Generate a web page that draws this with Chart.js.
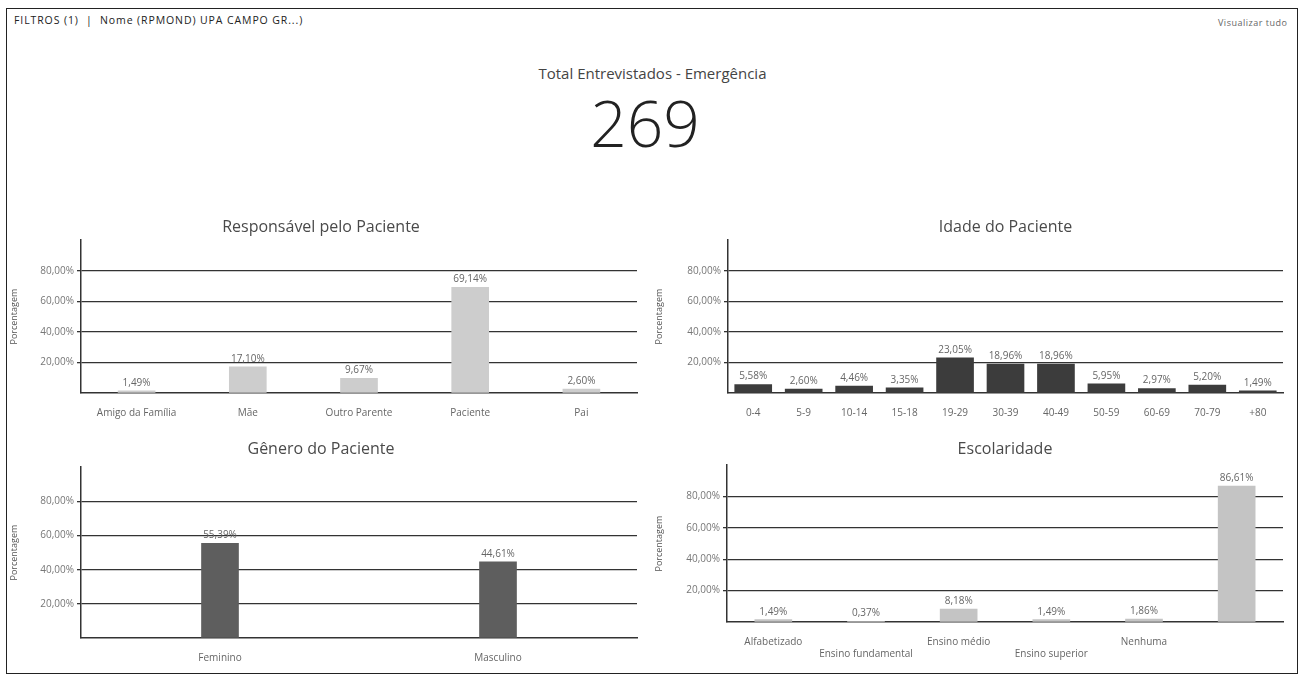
<!DOCTYPE html>
<html>
<head>
<meta charset="utf-8">
<script src="https://cdn.jsdelivr.net/npm/chart.js@4.4.1/dist/chart.umd.min.js"></script>
<style>
  html, body { margin:0; padding:0; background:#fff; }
  body { width:1305px; height:679px; position:relative; overflow:hidden; font-family:"Open Sans", sans-serif; }
  #frame { position:absolute; left:6px; top:8px; width:1292px; height:666px; border:1.5px solid #222; box-sizing:border-box; }
  #filtros { position:absolute; left:14px; top:13px; font-size:10.5px; letter-spacing:0.9px; color:#222; white-space:nowrap; }
  #verTudo { position:absolute; left:1218px; top:16px; font-size:9px; letter-spacing:0.5px; color:#666; white-space:nowrap; }
  #kpiTitle { position:absolute; left:0; width:1305px; top:63px; text-align:center; font-size:15px; color:#444; }
  #kpi { position:absolute; left:0; width:1290px; top:80px; text-align:center; font-size:64px; font-weight:300; color:#222; line-height:86px; }
  .box { position:absolute; }
</style>
</head>
<body>
<div id="frame"></div>
<div id="filtros">FILTROS (1) &nbsp;|&nbsp; Nome (RPMOND) UPA CAMPO GR...)</div>
<div id="verTudo">Visualizar tudo</div>
<div id="kpiTitle">Total Entrevistados - Emergência</div>
<div id="kpi">269</div>

<div class="box" style="left:5px;top:205px;width:636px;height:218px"><canvas id="chartResp"></canvas></div>
<div class="box" style="left:650px;top:205px;width:645px;height:218px"><canvas id="chartIdade"></canvas></div>
<div class="box" style="left:5px;top:430px;width:636px;height:238px"><canvas id="chartGenero"></canvas></div>
<div class="box" style="left:650px;top:430px;width:645px;height:234px"><canvas id="chartEscol"></canvas></div>

<script>
const respLabels = ["Amigo da Família", "Mãe", "Outro Parente", "Paciente", "Pai"];
const respValues = [1.49, 17.10, 9.67, 69.14, 2.60];

const idadeLabels = ["0-4", "5-9", "10-14", "15-18", "19-29", "30-39", "40-49", "50-59", "60-69", "70-79", "+80"];
const idadeValues = [5.58, 2.60, 4.46, 3.35, 23.05, 18.96, 18.96, 5.95, 2.97, 5.20, 1.49];

const generoLabels = ["Feminino", "Masculino"];
const generoValues = [55.39, 44.61];

const escolLabels = ["Alfabetizado", "Ensino fundamental", "Ensino médio", "Ensino superior", "Nenhuma", ""];
const escolValues = [1.49, 0.37, 8.18, 1.49, 1.86, 86.61];

const yTicks = [0, 20, 40, 60, 80, 100];

Chart.defaults.font.family = "'Open Sans', sans-serif";
Chart.defaults.color = "#666";

function pct(v){ return v.toFixed(2).replace(".", ",") + "%"; }

const valueLabels = {
    id: "valueLabels",
    afterDatasetsDraw(chart){
        const ctx = chart.ctx;
        const meta = chart.getDatasetMeta(0);
        ctx.save();
        ctx.font = "10px 'Open Sans', sans-serif";
        ctx.fillStyle = "#666";
        ctx.textAlign = "center";
        ctx.textBaseline = "bottom";
        meta.data.forEach((bar, i)=>{
            ctx.fillText(pct(chart.data.datasets[0].data[i]), bar.x, bar.y - 3);
        });
        ctx.restore();
    }
};

function makeChart(id, labels, values, color, opts){
    return new Chart(document.getElementById(id), {
        type: "bar",
        data: { labels: labels, datasets: [{ data: values, backgroundColor: color, barThickness: 37 }] },
        plugins: [valueLabels],
        options: {
            responsive: true,
            maintainAspectRatio: false,
            animation: false,
            layout: { padding: { top: 0, right: opts.padRight, left: 0, bottom: 0 } },
            plugins: {
                legend: { display: false },
                tooltip: { enabled: false },
                title: {
                    display: true,
                    text: opts.title,
                    fullSize: opts.fullSize,
                    color: "#4a4a4a",
                    font: { size: 16, weight: "normal" },
                    padding: { top: opts.titleTop, bottom: opts.titleBottom }
                }
            },
            scales: {
                x: {
                    grid: { display: false },
                    border: { color: "#333", width: 1.5 },
                    ticks: { autoSkip: false, maxRotation: 0, font: { size: 10 }, color: "#666", padding: 6 },
                    afterFit: s => { s.height = opts.xHeight; }
                },
                y: {
                    min: 0, max: 100,
                    afterBuildTicks: s => { s.ticks = yTicks.map(v => ({ value: v })); },
                    ticks: {
                        font: { size: 10 }, color: "#777", padding: 3,
                        callback: v => (v === 0 || v === 100) ? "" : pct(v)
                    },
                    grid: {
                        color: c => c.tick && (c.tick.value === 100 || c.tick.value === 0) ? "rgba(0,0,0,0)" : "#333",
                        lineWidth: 1.3,
                        tickLength: 4
                    },
                    border: { color: "#333", width: 1.5 },
                    title: { display: true, text: "Porcentagem", font: { size: 9 }, color: "#555", padding: { top: 4, bottom: 0 } },
                    afterFit: s => { s.width = opts.yWidth; }
                }
            }
        }
    });
}

makeChart("chartResp", respLabels, respValues, "#cdcdcd",
    { title: "Responsável pelo Paciente", fullSize: true, padRight: 4, yWidth: 76, titleTop: 13, titleBottom: 3, xHeight: 30 });

makeChart("chartIdade", idadeLabels, idadeValues, "#3c3c3c",
    { title: "Idade do Paciente", fullSize: false, padRight: 12, yWidth: 78, titleTop: 13, titleBottom: 3, xHeight: 30 });

makeChart("chartGenero", generoLabels, generoValues, "#5e5e5e",
    { title: "Gênero do Paciente", fullSize: true, padRight: 4, yWidth: 76, titleTop: 10, titleBottom: 8, xHeight: 30 });

// rótulos da escolaridade em duas linhas alternadas
const escolTickLabels = escolLabels.map((l, i) => i % 2 === 0 ? l : ["", l]);
makeChart("chartEscol", escolTickLabels, escolValues, "#c4c4c4",
    { title: "Escolaridade", fullSize: false, padRight: 12, yWidth: 77, titleTop: 10, titleBottom: 6, xHeight: 42 });
</script>
</body>
</html>
